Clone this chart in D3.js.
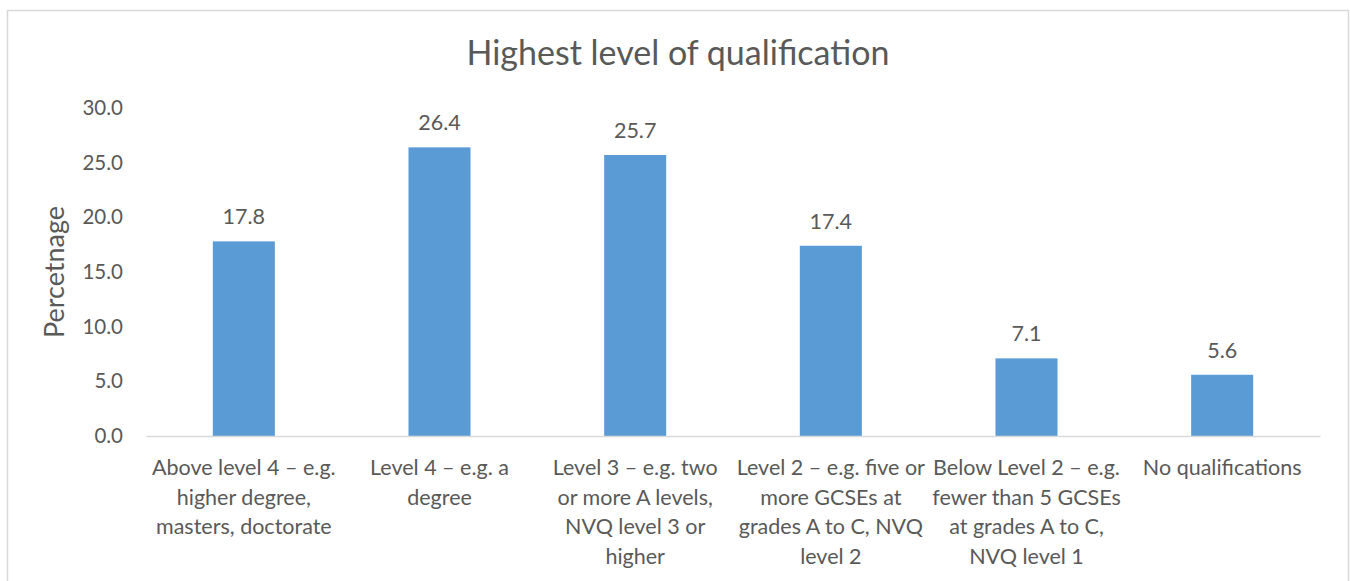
<!DOCTYPE html>
<html>
<head>
<meta charset="utf-8">
<script src="https://cdn.jsdelivr.net/npm/d3@7"></script>
<style>
	body { margin: 0; background: #fff; }
	text { font-family: Lato, "Open Sans", sans-serif; fill: #595959; }
</style>
</head>
<body>
<div id="svg-container"></div>
<script>
// DATA
const categories = [
	"Above level 4 – e.g.\nhigher degree,\nmasters, doctorate",
	"Level 4 – e.g. a\ndegree",
	"Level 3 – e.g. two\nor more A levels,\nNVQ level 3 or\nhigher",
	"Level 2 – e.g. five or\nmore GCSEs at\ngrades A to C, NVQ\nlevel 2",
	"Below Level 2 – e.g.\nfewer than 5 GCSEs\nat grades A to C,\nNVQ level 1",
	"No qualifications"
];
const values = [17.8, 26.4, 25.7, 17.4, 7.1, 5.6];
const yTicks = [0, 5, 10, 15, 20, 25, 30];

const title = "Highest level of qualification";
const yLabel = "Percetnage";


// CHART
function drawChart() {
	// dimensions
	const w = 1350;
	const h = 581;
	const plotLeft = 146;
	const plotRight = 1320;
	const plotTop = 108;
	const plotBottom = 436;

	const svg = d3.select("#svg-container")
		.append("svg")
		.attr("width", w)
		.attr("height", h);

	// chart border
	svg.append("rect")
		.attr("x", 7.5)
		.attr("y", 10.5)
		.attr("width", 1341)
		.attr("height", 600)
		.attr("fill", "none")
		.attr("stroke", "#d9d9d9")
		.attr("stroke-width", 1.5);

	// scales
	const xScale = d3.scaleBand()
		.domain(categories)
		.range([plotLeft, plotRight])
		.paddingInner(0.683)
		.paddingOuter(0.3415);
	const yScale = d3.scaleLinear()
		.domain([0, 30])
		.range([plotBottom, plotTop]);

	// title
	svg.append("text")
		.text(title)
		.attr("x", 678)
		.attr("y", 65)
		.attr("text-anchor", "middle")
		.style("font-size", "34px");

	// y axis (labels only)
	const yAxis = d3.axisLeft(yScale)
		.tickValues(yTicks)
		.tickFormat(d3.format(".1f"))
		.tickSize(0)
		.tickPadding(0);
	const gy = svg.append("g")
		.attr("transform", "translate(123, 0)")
		.call(yAxis);
	gy.select(".domain").remove();
	gy.selectAll("text")
		.style("font-size", "20.5px")
		.style("font-family", "Lato, sans-serif")
		.attr("fill", "#595959");

	// y label
	svg.append("text")
		.text(yLabel)
		.attr("transform", `translate(64, ${(plotTop + plotBottom) / 2}) rotate(-90)`)
		.attr("text-anchor", "middle")
		.style("font-size", "27px");

	// bars
	svg.selectAll("rect.bar")
		.data(values)
		.enter()
		.append("rect")
		.attr("class", "bar")
		.attr("x", (d, i) => xScale(categories[i]))
		.attr("y", d => yScale(d))
		.attr("width", xScale.bandwidth())
		.attr("height", d => yScale(0) - yScale(d))
		.attr("fill", "#5b9bd5");

	// data labels
	svg.selectAll("text.value")
		.data(values)
		.enter()
		.append("text")
		.attr("class", "value")
		.text(d => d.toFixed(1))
		.attr("x", (d, i) => xScale(categories[i]) + xScale.bandwidth() / 2)
		.attr("y", d => yScale(d) - 17)
		.attr("text-anchor", "middle")
		.style("font-size", "21.5px");

	// x axis
	const xAxis = d3.axisBottom(xScale)
		.tickSize(0)
		.tickFormat("");
	const gx = svg.append("g")
		.attr("transform", `translate(0, ${plotBottom})`)
		.call(xAxis);
	gx.select(".domain")
		.attr("stroke", "#d9d9d9")
		.attr("stroke-width", 1.5);

	// category labels, multi-line
	const lineH = 29.6;
	gx.selectAll(".tick").each(function(d) {
		const t = d3.select(this).append("text")
			.attr("text-anchor", "middle")
			.attr("fill", "#595959")
			.style("font-size", "21.5px")
			.style("font-family", "Lato, sans-serif");
		d.split("\n").forEach((line, j) => {
			t.append("tspan")
				.attr("x", 0)
				.attr("y", 39 + j * lineH)
				.text(line);
		});
	});
}

document.addEventListener('DOMContentLoaded', () => {
	drawChart();
});
</script>
</body>
</html>
